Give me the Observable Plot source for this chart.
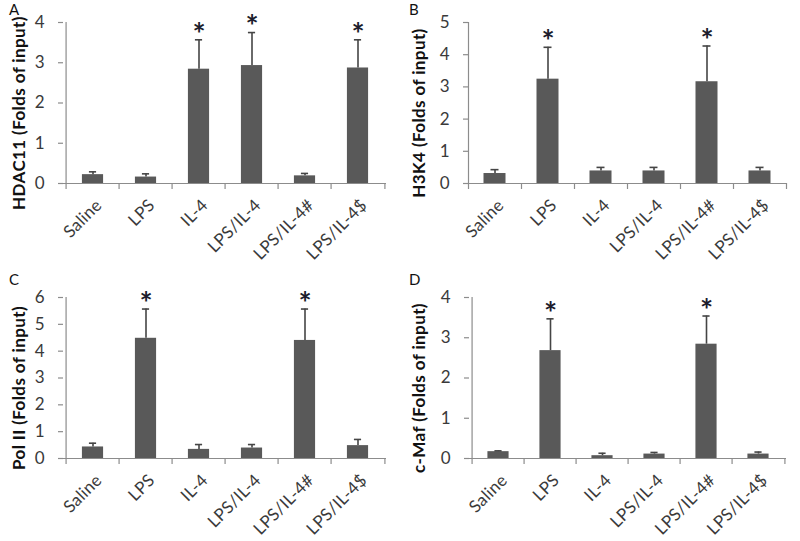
<!DOCTYPE html>
<html>
<head>
<meta charset="utf-8">
<script src="https://cdn.jsdelivr.net/npm/d3@7"></script>
<script src="https://cdn.jsdelivr.net/npm/@observablehq/plot@0.6"></script>
<style>
  html, body { margin: 0; padding: 0; background: #fff; }
  #grid { display: grid; grid-template-columns: 400px 400px; width: 800px; }
  .cell { position: relative; width: 400px; }
  .letter { position: absolute; left: 9px; top: 0px; font: 15px Lato, "Liberation Sans", sans-serif; color: #111; }
  svg { display: block; }
</style>
</head>
<body>
<div id="grid"></div>
<script>
const categories = ["Saline", "LPS", "IL-4", "LPS/IL-4", "LPS/IL-4#", "LPS/IL-4$"];

const hdac11 = [0.22, 0.16, 2.84, 2.93, 0.19, 2.87];
const hdac11Err = [0.29, 0.24, 3.57, 3.75, 0.25, 3.57];
const hdac11Sig = [false, false, true, true, false, true];

const h3k4 = [0.31, 3.24, 0.39, 0.39, 3.16, 0.39];
const h3k4Err = [0.43, 4.23, 0.50, 0.50, 4.27, 0.50];
const h3k4Sig = [false, true, false, false, true, false];

const pol2 = [0.43, 4.48, 0.34, 0.39, 4.40, 0.48];
const pol2Err = [0.57, 5.57, 0.52, 0.52, 5.57, 0.71];
const pol2Sig = [false, true, false, false, true, false];

const cmaf = [0.17, 2.68, 0.07, 0.11, 2.84, 0.11];
const cmafErr = [0.19, 3.47, 0.13, 0.15, 3.54, 0.16];
const cmafSig = [false, true, false, false, true, false];

const yTicksA = [0, 1, 2, 3, 4];
const yTicksB = [0, 1, 2, 3, 4, 5];
const yTicksC = [0, 1, 2, 3, 4, 5, 6];
const yTicksD = [0, 1, 2, 3, 4];

const panels = [
  {letter: "A", label: "HDAC11 (Folds of input)", values: hdac11, err: hdac11Err, sig: hdac11Sig, ticks: yTicksA,
   height: 270, mL: 63, mR: 14, mT: 22, mB: 87},
  {letter: "B", label: "H3K4 (Folds of input)", values: h3k4, err: h3k4Err, sig: h3k4Sig, ticks: yTicksB,
   height: 270, mL: 68, mR: 14, mT: 22, mB: 87},
  {letter: "C", label: "Pol II (Folds of input)", values: pol2, err: pol2Err, sig: pol2Sig, ticks: yTicksC,
   height: 271, mL: 63, mR: 14, mT: 27, mB: 83},
  {letter: "D", label: "c-Maf (Folds of input)", values: cmaf, err: cmafErr, sig: cmafSig, ticks: yTicksD,
   height: 271, mL: 69, mR: 14, mT: 27, mB: 83}
];

const font = "Lato, 'Liberation Sans', sans-serif";
const axisGray = "#8c8c8c";
const barColor = "#595959";

const grid = document.getElementById("grid");

for (const p of panels) {
  const width = 400;
  const data = categories.map((c, i) => ({cat: c, value: p.values[i], err: p.err[i], sig: p.sig[i]}));
  const bw = (width - p.mL - p.mR) / categories.length;
  const yMax = p.ticks[p.ticks.length - 1];
  const last = categories[categories.length - 1];

  const chart = Plot.plot({
    width, height: p.height,
    marginLeft: p.mL, marginRight: p.mR, marginTop: p.mT, marginBottom: p.mB,
    style: {fontFamily: font, background: "#fff"},
    x: {domain: categories, padding: 0, axis: null},
    y: {domain: [0, yMax], axis: null},
    marks: [
      // bars
      Plot.barY(data, {x: "cat", y: "value", fill: barColor, insetLeft: (bw - 22) / 2, insetRight: (bw - 22) / 2}),
      // error bars (upper only)
      Plot.ruleX(data, {x: "cat", y1: "value", y2: "err", stroke: "#454545", strokeWidth: 1.6}),
      Plot.tickY(data, {x: "cat", y: "err", stroke: "#454545", strokeWidth: 1.6, inset: (bw - 8) / 2}),
      // significance asterisks
      Plot.text(data.filter(d => d.sig), {x: "cat", y: "err", text: () => "*", fontSize: 31, fontWeight: "bold",
        fill: "#1c1c2c", dy: -5}),
      // x axis line
      Plot.ruleY([0], {stroke: axisGray, strokeWidth: 1.2}),
      // x axis boundary ticks
      Plot.ruleX(categories, {x: d => d, y1: 0, y2: 0, dx: -bw / 2, insetBottom: -6, stroke: axisGray, strokeWidth: 1.2}),
      Plot.ruleX([last], {x: d => d, y1: 0, y2: 0, dx: bw / 2, insetBottom: -6, stroke: axisGray, strokeWidth: 1.2}),
      // y axis line
      Plot.ruleX([categories[0]], {x: d => d, y1: 0, y2: yMax, dx: -bw / 2, stroke: axisGray, strokeWidth: 1.2}),
      // y axis ticks and labels
      Plot.axisY(p.ticks, {tickSize: 5, stroke: axisGray, strokeWidth: 1.2, tickFormat: () => "", label: null}),
      Plot.axisY(p.ticks, {tickSize: 0, tickPadding: 19, fill: "#3a3a3a", stroke: null, fontSize: 17, label: null}),
      // x axis labels (rotated)
      Plot.text(categories, {x: d => d, text: d => d, frameAnchor: "bottom", rotate: -45, textAnchor: "end",
        lineAnchor: "middle", dx: 6, dy: 19, fontSize: 17, fill: "#3a3a3a"}),
      // y axis title
      Plot.text([p.label], {frameAnchor: "left", text: d => d, rotate: -90, dx: -p.mL + 19, dy: 10,
        fontSize: 17, fontWeight: "bold", fill: "#111", textAnchor: "middle"})
    ]
  });

  chart.querySelectorAll("text").forEach(t => {
    if (t.textContent.includes("Folds of input")) t.style.letterSpacing = "0.4px";
    else if (categories.includes(t.textContent)) t.style.letterSpacing = "0.3px";
  });

  const cell = document.createElement("div");
  cell.className = "cell";
  cell.appendChild(chart);
  const letter = document.createElement("div");
  letter.className = "letter";
  letter.textContent = p.letter;
  cell.appendChild(letter);
  grid.appendChild(cell);
}
</script>
</body>
</html>
